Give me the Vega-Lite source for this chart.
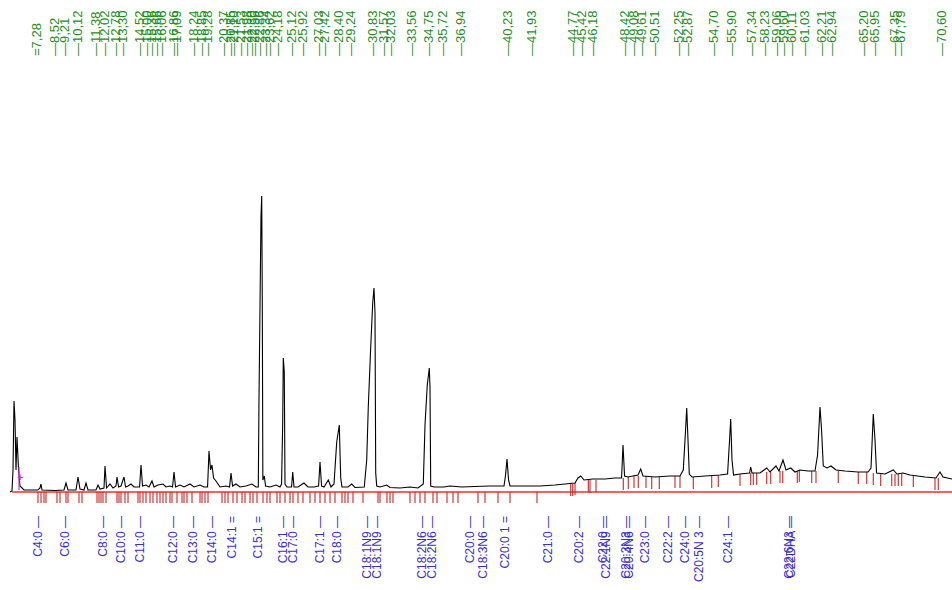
{
  "$schema": "https://vega.github.io/schema/vega-lite/v6.json",
  "width": 952,
  "height": 590,
  "padding": 0,
  "autosize": {"type": "none"},
  "background": "white",
  "config": {"view": {"stroke": null}},
  "datasets": {
    "trace": [
      {"t":5.39,"s":0},{"t":5.53,"s":1},{"t":5.60,"s":22},{"t":5.67,"s":91},{"t":5.74,"s":72},{"t":5.81,"s":22},{"t":5.88,"s":55},{"t":5.99,"s":22},{"t":6.09,"s":6},{"t":6.37,"s":2},{"t":7.35,"s":2},{"t":7.49,"s":4},{"t":7.56,"s":8},{"t":7.63,"s":2},{"t":8.54,"s":1.5},{"t":9.17,"s":2},{"t":9.31,"s":9},{"t":9.45,"s":2},{"t":10.01,"s":2},{"t":10.15,"s":15},{"t":10.29,"s":3},{"t":10.57,"s":2},{"t":10.71,"s":9},{"t":10.85,"s":2},{"t":11.41,"s":2},{"t":11.55,"s":7},{"t":11.69,"s":3},{"t":11.97,"s":4},{"t":12.04,"s":26},{"t":12.15,"s":4},{"t":12.39,"s":8},{"t":12.60,"s":4},{"t":12.81,"s":6},{"t":12.88,"s":15},{"t":12.99,"s":5},{"t":13.16,"s":6},{"t":13.37,"s":15},{"t":13.48,"s":5},{"t":13.65,"s":6},{"t":13.86,"s":8},{"t":14.07,"s":5},{"t":14.46,"s":5},{"t":14.56,"s":27},{"t":14.67,"s":6},{"t":14.91,"s":7},{"t":15.12,"s":5},{"t":15.33,"s":11},{"t":15.47,"s":5},{"t":15.75,"s":7},{"t":16.10,"s":8},{"t":16.31,"s":5},{"t":16.59,"s":6},{"t":16.77,"s":5},{"t":16.87,"s":20},{"t":16.98,"s":5},{"t":17.29,"s":7},{"t":17.57,"s":5},{"t":17.99,"s":8},{"t":18.27,"s":5},{"t":18.69,"s":7},{"t":18.97,"s":5},{"t":19.22,"s":5},{"t":19.32,"s":41},{"t":19.43,"s":22},{"t":19.53,"s":27},{"t":19.64,"s":14},{"t":19.81,"s":11},{"t":20.09,"s":5},{"t":20.51,"s":6},{"t":20.76,"s":5},{"t":20.86,"s":19},{"t":20.97,"s":6},{"t":21.21,"s":8},{"t":21.49,"s":5},{"t":21.91,"s":6},{"t":22.33,"s":8},{"t":22.61,"s":5},{"t":22.77,"s":5},{"t":22.82,"s":94},{"t":22.89,"s":185},{"t":22.96,"s":276},{"t":23.01,"s":296},{"t":23.05,"s":192},{"t":23.09,"s":12},{"t":23.19,"s":16},{"t":23.28,"s":6},{"t":23.59,"s":5},{"t":24.01,"s":7},{"t":24.29,"s":5},{"t":24.40,"s":8},{"t":24.48,"s":70},{"t":24.52,"s":134},{"t":24.59,"s":120},{"t":24.64,"s":8},{"t":24.78,"s":5},{"t":25.10,"s":5},{"t":25.18,"s":20},{"t":25.27,"s":5},{"t":25.55,"s":5},{"t":25.97,"s":9},{"t":26.25,"s":5},{"t":26.67,"s":5},{"t":26.99,"s":6},{"t":27.09,"s":30},{"t":27.20,"s":6},{"t":27.37,"s":5},{"t":27.67,"s":12},{"t":27.86,"s":5},{"t":28.07,"s":8},{"t":28.26,"s":50},{"t":28.44,"s":67},{"t":28.54,"s":14},{"t":28.63,"s":5},{"t":29.05,"s":5},{"t":29.31,"s":8},{"t":29.54,"s":4.5},{"t":30.19,"s":5},{"t":30.36,"s":32},{"t":30.47,"s":85},{"t":30.64,"s":145},{"t":30.78,"s":189},{"t":30.87,"s":204},{"t":30.94,"s":179},{"t":30.99,"s":19},{"t":31.06,"s":6},{"t":31.29,"s":5},{"t":31.76,"s":7},{"t":31.99,"s":4.5},{"t":32.69,"s":4},{"t":33.39,"s":5},{"t":33.95,"s":4},{"t":34.32,"s":8},{"t":34.44,"s":67},{"t":34.60,"s":107},{"t":34.74,"s":124},{"t":34.79,"s":105},{"t":34.84,"s":6},{"t":35.07,"s":5},{"t":35.77,"s":5},{"t":36.19,"s":6},{"t":37.03,"s":5},{"t":37.94,"s":5.5},{"t":38.99,"s":6},{"t":39.97,"s":6},{"t":40.08,"s":17},{"t":40.18,"s":33},{"t":40.29,"s":12},{"t":40.39,"s":6},{"t":41.44,"s":6},{"t":42.49,"s":6},{"t":43.54,"s":7},{"t":44.24,"s":8},{"t":44.94,"s":9},{"t":45.15,"s":14},{"t":45.34,"s":16},{"t":45.57,"s":12},{"t":46.20,"s":13},{"t":47.04,"s":13},{"t":47.74,"s":14},{"t":48.20,"s":14},{"t":48.30,"s":47},{"t":48.41,"s":16},{"t":48.65,"s":15},{"t":49.00,"s":16},{"t":49.35,"s":17},{"t":49.54,"s":23},{"t":49.70,"s":16},{"t":50.54,"s":15},{"t":51.59,"s":16},{"t":52.29,"s":16},{"t":52.52,"s":22},{"t":52.68,"s":62},{"t":52.76,"s":84},{"t":52.85,"s":52},{"t":52.94,"s":18},{"t":53.13,"s":15},{"t":54.04,"s":16},{"t":55.09,"s":17},{"t":55.62,"s":18},{"t":55.76,"s":52},{"t":55.84,"s":73},{"t":55.93,"s":32},{"t":56.04,"s":17},{"t":56.49,"s":18},{"t":57.16,"s":19},{"t":57.24,"s":25},{"t":57.33,"s":19},{"t":57.89,"s":19},{"t":58.36,"s":24},{"t":58.59,"s":20},{"t":59.01,"s":26},{"t":59.22,"s":21},{"t":59.50,"s":32},{"t":59.71,"s":22},{"t":60.04,"s":24},{"t":60.34,"s":20},{"t":60.69,"s":22},{"t":61.25,"s":21},{"t":61.74,"s":21},{"t":61.92,"s":37},{"t":62.09,"s":85},{"t":62.20,"s":62},{"t":62.32,"s":26},{"t":62.58,"s":24},{"t":62.86,"s":26},{"t":63.21,"s":22},{"t":63.84,"s":21},{"t":64.75,"s":20},{"t":65.45,"s":20},{"t":65.66,"s":24},{"t":65.82,"s":78},{"t":65.94,"s":52},{"t":66.05,"s":19},{"t":66.64,"s":18},{"t":67.22,"s":22},{"t":67.48,"s":18},{"t":67.90,"s":19},{"t":68.39,"s":17},{"t":69.44,"s":15},{"t":70.21,"s":14},{"t":70.49,"s":20},{"t":70.70,"s":15},{"t":71.33,"s":13}
    ],
    "ticks": [
      {"t":7.35,"a":0,"b":-11},{"t":7.56,"a":0,"b":-11},{"t":7.77,"a":0,"b":-11},{"t":7.91,"a":0,"b":-11},{"t":8.68,"a":0,"b":-11},{"t":8.89,"a":0,"b":-11},{"t":9.31,"a":0,"b":-11},{"t":9.45,"a":0,"b":-11},{"t":10.22,"a":0,"b":-11},{"t":10.43,"a":0,"b":-11},{"t":11.48,"a":0,"b":-11},{"t":11.62,"a":0,"b":-11},{"t":11.76,"a":0,"b":-11},{"t":11.90,"a":0,"b":-11},{"t":12.11,"a":0,"b":-11},{"t":12.88,"a":0,"b":-11},{"t":13.02,"a":0,"b":-11},{"t":13.16,"a":0,"b":-11},{"t":13.44,"a":0,"b":-11},{"t":13.65,"a":0,"b":-11},{"t":14.35,"a":0,"b":-11},{"t":14.49,"a":0,"b":-11},{"t":14.70,"a":0,"b":-11},{"t":14.91,"a":0,"b":-11},{"t":15.19,"a":0,"b":-11},{"t":15.40,"a":0,"b":-11},{"t":15.68,"a":0,"b":-11},{"t":15.89,"a":0,"b":-11},{"t":16.10,"a":0,"b":-11},{"t":16.31,"a":0,"b":-11},{"t":16.59,"a":0,"b":-11},{"t":16.73,"a":0,"b":-11},{"t":17.08,"a":0,"b":-11},{"t":17.43,"a":0,"b":-11},{"t":17.57,"a":0,"b":-11},{"t":17.78,"a":0,"b":-11},{"t":18.13,"a":0,"b":-11},{"t":18.69,"a":0,"b":-11},{"t":18.83,"a":0,"b":-11},{"t":19.04,"a":0,"b":-11},{"t":19.25,"a":0,"b":-11},{"t":20.23,"a":0,"b":-11},{"t":20.44,"a":0,"b":-11},{"t":20.65,"a":0,"b":-11},{"t":21.00,"a":0,"b":-11},{"t":21.28,"a":0,"b":-11},{"t":21.63,"a":0,"b":-11},{"t":21.84,"a":0,"b":-11},{"t":22.19,"a":0,"b":-11},{"t":22.40,"a":0,"b":-11},{"t":22.68,"a":0,"b":-11},{"t":23.10,"a":0,"b":-11},{"t":23.38,"a":0,"b":-11},{"t":23.59,"a":0,"b":-11},{"t":24.08,"a":0,"b":-11},{"t":24.29,"a":0,"b":-11},{"t":24.64,"a":0,"b":-11},{"t":24.99,"a":0,"b":-11},{"t":25.20,"a":0,"b":-11},{"t":25.55,"a":0,"b":-11},{"t":25.90,"a":0,"b":-11},{"t":26.39,"a":0,"b":-11},{"t":26.74,"a":0,"b":-11},{"t":27.09,"a":0,"b":-11},{"t":27.44,"a":0,"b":-11},{"t":27.79,"a":0,"b":-11},{"t":28.14,"a":0,"b":-11},{"t":28.63,"a":0,"b":-11},{"t":28.84,"a":0,"b":-11},{"t":29.05,"a":0,"b":-11},{"t":29.40,"a":0,"b":-11},{"t":30.10,"a":0,"b":-11},{"t":31.15,"a":0,"b":-11},{"t":31.29,"a":0,"b":-11},{"t":31.78,"a":0,"b":-11},{"t":31.99,"a":0,"b":-11},{"t":32.20,"a":0,"b":-11},{"t":33.39,"a":0,"b":-11},{"t":33.74,"a":0,"b":-11},{"t":34.09,"a":0,"b":-11},{"t":34.44,"a":0,"b":-11},{"t":35.00,"a":0,"b":-11},{"t":35.28,"a":0,"b":-11},{"t":35.98,"a":0,"b":-11},{"t":36.40,"a":0,"b":-11},{"t":36.75,"a":0,"b":-11},{"t":38.15,"a":0,"b":-11},{"t":38.64,"a":0,"b":-11},{"t":39.55,"a":0,"b":-11},{"t":40.39,"a":0,"b":-11},{"t":42.28,"a":0,"b":-11},
      {"t":44.64,"a":8,"b":-4},{"t":44.78,"a":8,"b":-4},{"t":44.94,"a":9,"b":-3},{"t":45.87,"a":12,"b":0},{"t":45.99,"a":12,"b":-1},{"t":46.41,"a":12,"b":0},{"t":48.32,"a":14,"b":2},{"t":48.67,"a":15,"b":3},{"t":49.07,"a":16,"b":4},{"t":49.37,"a":16,"b":4},{"t":49.91,"a":16,"b":4},{"t":50.31,"a":15,"b":3},{"t":50.84,"a":15,"b":3},{"t":51.94,"a":16,"b":4},{"t":52.29,"a":16,"b":4},{"t":53.22,"a":15,"b":3},{"t":54.51,"a":16,"b":4},{"t":54.97,"a":17,"b":5},{"t":56.49,"a":18,"b":6},{"t":57.24,"a":19,"b":7},{"t":57.42,"a":19,"b":7},{"t":57.66,"a":19,"b":7},{"t":58.36,"a":20,"b":8},{"t":58.64,"a":20,"b":8},{"t":59.29,"a":21,"b":9},{"t":59.48,"a":21,"b":9},{"t":60.50,"a":21,"b":9},{"t":60.64,"a":22,"b":10},{"t":61.51,"a":21,"b":9},{"t":61.81,"a":21,"b":9},{"t":63.37,"a":21,"b":9},{"t":64.77,"a":20,"b":8},{"t":65.36,"a":20,"b":8},{"t":65.82,"a":19,"b":7},{"t":66.34,"a":18,"b":6},{"t":67.11,"a":18,"b":6},{"t":67.34,"a":18,"b":6},{"t":67.57,"a":18,"b":6},{"t":67.81,"a":18,"b":6},{"t":68.62,"a":17,"b":5},{"t":70.14,"a":14,"b":2},{"t":70.37,"a":14,"b":2}
    ],
    "top": [
      {"lab":"=7,28","t":7.28},{"lab":"—8,52","t":8.52},{"lab":"—9,21","t":9.21},{"lab":"—10,12","t":10.12},{"lab":"—11,38","t":11.38},{"lab":"—12,02","t":12.02},{"lab":"—12,78","t":12.78},{"lab":"—13,30","t":13.30},{"lab":"—14,52","t":14.52},{"lab":"—15,00","t":15.00},{"lab":"—15,36","t":15.36},{"lab":"—15,66","t":15.66},{"lab":"—16,06","t":16.06},{"lab":"—16,86","t":16.86},{"lab":"—17,09","t":17.09},{"lab":"—18,24","t":18.24},{"lab":"—18,85","t":18.85},{"lab":"—19,28","t":19.28},{"lab":"—20,37","t":20.37},{"lab":"—20,85","t":20.85},{"lab":"—21,10","t":21.10},{"lab":"—21,53","t":21.53},{"lab":"—21,98","t":21.98},{"lab":"—22,30","t":22.30},{"lab":"—22,56","t":22.56},{"lab":"—22,86","t":22.86},{"lab":"—23,34","t":23.34},{"lab":"—23,62","t":23.62},{"lab":"—24,18","t":24.18},{"lab":"—25,12","t":25.12},{"lab":"—25,92","t":25.92},{"lab":"—27,03","t":27.03},{"lab":"—27,42","t":27.42},{"lab":"—28,40","t":28.40},{"lab":"—29,24","t":29.24},{"lab":"—30,83","t":30.83},{"lab":"—31,57","t":31.57},{"lab":"—32,03","t":32.03},{"lab":"—33,56","t":33.56},{"lab":"—34,75","t":34.75},{"lab":"—35,72","t":35.72},{"lab":"—36,94","t":36.94},{"lab":"—40,23","t":40.23},{"lab":"—41,93","t":41.93},{"lab":"—44,77","t":44.77},{"lab":"—45,42","t":45.42},{"lab":"—46,18","t":46.18},{"lab":"—48,42","t":48.42},{"lab":"—49,08","t":49.08},{"lab":"—49,61","t":49.61},{"lab":"—50,51","t":50.51},{"lab":"—52,25","t":52.25},{"lab":"—52,87","t":52.87},{"lab":"—54,70","t":54.70},{"lab":"—55,90","t":55.90},{"lab":"—57,34","t":57.34},{"lab":"—58,23","t":58.23},{"lab":"—59,06","t":59.06},{"lab":"—59,60","t":59.60},{"lab":"—60,11","t":60.11},{"lab":"—61,03","t":61.03},{"lab":"—62,21","t":62.21},{"lab":"—62,94","t":62.94},{"lab":"—65,20","t":65.20},{"lab":"—65,95","t":65.95},{"lab":"—67,35","t":67.35},{"lab":"—67,79","t":67.79},{"lab":"—70,60","t":70.60}
    ],
    "bottom": [
      {"lab":"C4:0 —","t":7.35},{"lab":"C6:0 —","t":9.24},{"lab":"C8:0 —","t":11.90},{"lab":"C10:0 —","t":13.16},{"lab":"C11:0 —","t":14.49},{"lab":"C12:0 —","t":16.80},{"lab":"C13:0 —","t":18.20},{"lab":"C14:0 —","t":19.53},{"lab":"C14:1 =","t":20.93},{"lab":"C15:1 =","t":22.75},{"lab":"C16:1 —","t":24.50},{"lab":"C17:0 —","t":25.20},{"lab":"C17:1 —","t":27.09},{"lab":"C18:0 —","t":28.28},{"lab":"C18:1N9 —","t":30.38},{"lab":"C18:1N9 —","t":31.08},{"lab":"C18:2N6 —","t":34.23},{"lab":"C18:2N6 —","t":34.93},{"lab":"C20:0 —","t":37.59},{"lab":"C18:3N6 —","t":38.50},{"lab":"C20:0 1 =","t":40.04},{"lab":"C21:0 —","t":43.05},{"lab":"C20:2 —","t":45.22},{"lab":"C22:0 —","t":46.90},{"lab":"C22:1N9 —","t":47.11},{"lab":"C20:3N3 —","t":48.51},{"lab":"C20:4N6 —","t":48.72},{"lab":"C23:0 —","t":49.84},{"lab":"C22:2 —","t":51.45},{"lab":"C24:0 —","t":52.64},{"lab":"C20:5N 3 —","t":53.62},{"lab":"C24:1 —","t":55.65},{"lab":"C22:6N3 —","t":59.92},{"lab":"C22DHA —","t":60.06}
    ],
    "one": [{}]
  },
  "layer": [
    {
      "data": {"name": "one"},
      "mark": {"type": "rule", "color": "#ff2a2a", "strokeWidth": 1.6},
      "encoding": {
        "x": {"datum": 5.55, "type": "quantitative", "scale": {"domain": [4.69, 71.33], "nice": false, "zero": false}, "axis": null},
        "x2": {"datum": 71.33},
        "y": {"datum": 0, "type": "quantitative", "scale": {"domain": [-98, 492], "nice": false, "zero": false}, "axis": null}
      }
    },
    {
      "data": {"name": "ticks"},
      "mark": {"type": "rule", "color": "#cc2424", "strokeWidth": 1.1},
      "encoding": {
        "x": {"field": "t", "type": "quantitative", "scale": {"domain": [4.69, 71.33], "nice": false, "zero": false}, "axis": null},
        "y": {"field": "a", "type": "quantitative", "scale": {"domain": [-98, 492], "nice": false, "zero": false}, "axis": null},
        "y2": {"field": "b"}
      }
    },
    {
      "data": {"name": "trace"},
      "mark": {"type": "line", "color": "#000000", "strokeWidth": 1.1, "interpolate": "linear"},
      "encoding": {
        "x": {"field": "t", "type": "quantitative", "scale": {"domain": [4.69, 71.33], "nice": false, "zero": false}, "axis": null},
        "y": {"field": "s", "type": "quantitative", "scale": {"domain": [-98, 492], "nice": false, "zero": false}, "axis": null}
      }
    },
    {
      "data": {"name": "one"},
      "mark": {"type": "rule", "color": "#cc33cc", "strokeWidth": 1.2},
      "encoding": {
        "x": {"datum": 6.02, "type": "quantitative"},
        "y": {"datum": 2, "type": "quantitative"},
        "y2": {"datum": 25}
      }
    },
    {
      "data": {"name": "one"},
      "mark": {"type": "text", "color": "#cc33cc", "fontSize": 11, "font": "Liberation Sans", "text": "+"},
      "encoding": {
        "x": {"datum": 6.12, "type": "quantitative"},
        "y": {"datum": 14, "type": "quantitative"}
      }
    },
    {
      "data": {"name": "top"},
      "mark": {"type": "text", "angle": 270, "align": "left", "baseline": "middle", "fontSize": 13, "font": "Liberation Sans", "color": "#1f8c1f"},
      "encoding": {
        "x": {"field": "t", "type": "quantitative"},
        "y": {"datum": 436, "type": "quantitative"},
        "text": {"field": "lab"}
      }
    },
    {
      "data": {"name": "bottom"},
      "mark": {"type": "text", "angle": 270, "align": "right", "baseline": "middle", "fontSize": 12, "font": "Liberation Sans", "color": "#3a30c8"},
      "encoding": {
        "x": {"field": "t", "type": "quantitative"},
        "y": {"datum": -24, "type": "quantitative"},
        "text": {"field": "lab"}
      }
    }
  ]
}
